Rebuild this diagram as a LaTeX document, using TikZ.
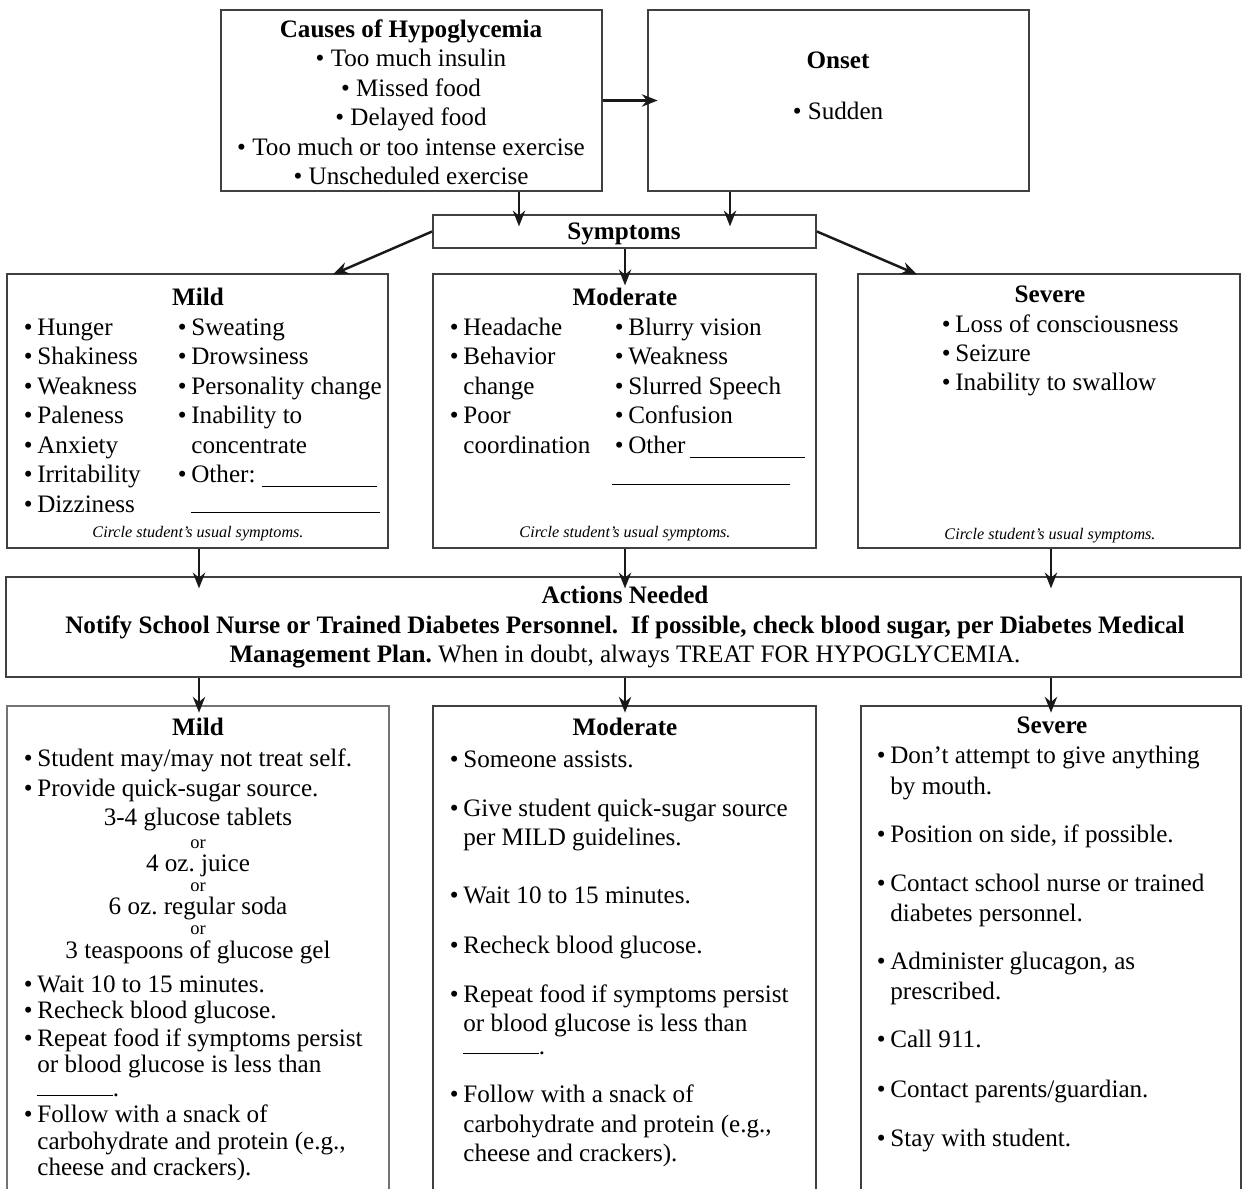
\documentclass[tikz,border=0pt]{standalone}
\usepackage{fontspec}
\setmainfont{Liberation Serif}
\usetikzlibrary{arrows.meta,fit}
\newcommand{\fBody}{\fontsize{14.3}{16.5}\selectfont}
\newcommand{\fNote}{\fontsize{9.2}{11}\selectfont}
\newcommand{\fOr}{\fontsize{10.5}{12}\selectfont}
\newcommand{\bul}{\llap{\textbullet\hspace{2.6pt}}}
\frenchspacing
\begin{document}
\begin{tikzpicture}[x=0.02cm,y=-0.02cm,
  box/.style={draw=black!75,line width=1pt,inner sep=0pt},
  openbox/.style={inner sep=0pt},
  txt/.style={anchor=base west,inner sep=0pt,font=\fBody},
  txc/.style={anchor=base,inner sep=0pt,font=\fBody},
  hdr/.style={anchor=base,inner sep=0pt,font=\fBody\bfseries},
  cnote/.style={anchor=base,inner sep=0pt,font=\fNote\itshape},
  orx/.style={anchor=base,inner sep=0pt,font=\fOr},
  arr/.style={-{Stealth[length=9pt,width=7pt]},line width=1.4pt,black!90},
  blank/.style={anchor=base west,inner sep=0pt}
]
\useasboundingbox (0,0) rectangle (1242,1189);

% ---------- boxes ----------
\node[box,fit={(221,10)(602,191)}] (causes) {};
\node[box,fit={(648,10)(1029,191)}] (onset) {};
\node[box,fit={(433,215)(816,248)}] (symp) {};
\node[box,fit={(7,274)(388,548)}] (smild) {};
\node[box,fit={(433,274)(816,548)}] (smod) {};
\node[box,fit={(858,274)(1240,548)}] (ssev) {};
\node[box,fit={(6,577)(1241,677)}] (act) {};
\node[openbox,fit={(7,706)(389,1189)}] (tmild) {};
\node[openbox,fit={(433,706)(816,1189)}] (tmod) {};
\node[openbox,fit={(861,706)(1241,1189)}] (tsev) {};
\draw[draw=black!55,line width=1pt] (tmild.south west) |- (tmild.north east) -- (tmild.south east);
\draw[draw=black!75,line width=1pt] (tmod.south west) |- (tmod.north east) -- (tmod.south east);
\draw[draw=black!75,line width=1pt] (tsev.south west) |- (tsev.north east) -- (tsev.south east);

% ---------- connectors ----------
\coordinate (xc) at (519,0);
\coordinate (xo) at (730,0);
\coordinate (xm) at (625,0);
\coordinate (xl) at (199,0);
\coordinate (xr) at (1051,0);
\coordinate (xsl) at (336,0);
\coordinate (xsr) at (914,0);
\draw[arr,shorten >=-6pt] (causes.east) -- (onset.west);
\draw[arr,shorten >=-7pt] (causes.south -| xc) -- (symp.north -| xc);
\draw[arr,shorten >=-7pt] (onset.south -| xo) -- (symp.north -| xo);
\draw[arr,shorten >=-2pt] (symp.west) -- (smild.north -| xsl);
\draw[arr,shorten >=-2pt] (symp.east) -- (ssev.north -| xsr);
\draw[arr,shorten >=-7pt] (symp.south -| xm) -- (smod.north -| xm);
\draw[arr,shorten >=-7pt] (smild.south -| xl) -- (act.north -| xl);
\draw[arr,shorten >=-7pt] (smod.south -| xm) -- (act.north -| xm);
\draw[arr,shorten >=-7pt] (ssev.south -| xr) -- (act.north -| xr);
\draw[arr,shorten >=-4pt] (act.south -| xl) -- (tmild.north -| xl);
\draw[arr,shorten >=-4pt] (act.south -| xm) -- (tmod.north -| xm);
\draw[arr,shorten >=-4pt] (act.south -| xr) -- (tsev.north -| xr);

\begin{scope}[shift={(0,3)}]
% ---------- causes ----------
\node[hdr] (c0) at (411,35) {Causes of Hypoglycemia};
\node[txc] (c1) at (411,64) {\textbullet\ Too much insulin};
\node[txc] (c2) at (411,94) {\textbullet\ Missed food};
\node[txc] (c3) at (411,123) {\textbullet\ Delayed food};
\node[txc] (c4) at (411,153) {\textbullet\ Too much or too intense exercise};
\node[txc] (c5) at (411,182) {\textbullet\ Unscheduled exercise};

% ---------- onset ----------
\node[hdr] (o0) at (838,66) {Onset};
\node[txc] (o1) at (838,117) {\textbullet\ Sudden};

% ---------- symptoms ----------
\node[hdr] (s0) at (624,237) {Symptoms};

% mild symptoms
\node[hdr] (sm0) at (198,303) {Mild};
\node[txt] (sm1) at (37,333) {\bul Hunger};
\node[txt] (sm2) at (37,362) {\bul Shakiness};
\node[txt] (sm3) at (37,392) {\bul Weakness};
\node[txt] (sm4) at (37,421) {\bul Paleness};
\node[txt] (sm5) at (37,451) {\bul Anxiety};
\node[txt] (sm6) at (37,480) {\bul Irritability};
\node[txt] (sm7) at (37,510) {\bul Dizziness};
\node[txt] (sm8) at (191,333) {\bul Sweating};
\node[txt] (sm9) at (191,362) {\bul Drowsiness};
\node[txt] (sm10) at (191,392) {\bul Personality change};
\node[txt] (sm11) at (191,421) {\bul Inability to};
\node[txt] (sm12) at (191,451) {concentrate};
\node[txt] (sm13) at (191,480) {\bul Other: \rule[-2.5pt]{65.5pt}{0.6pt}};
\node[blank] (sm14) at (191,510) {\rule{107.5pt}{0.6pt}};
\node[cnote] (sm15) at (198,535) {Circle student's usual symptoms.};

% moderate symptoms
\node[hdr] (sd0) at (625,303) {Moderate};
\node[txt] (sd1) at (463,333) {\bul Headache};
\node[txt] (sd2) at (463,362) {\bul Behavior};
\node[txt] (sd3) at (463,392) {change};
\node[txt] (sd4) at (463,421) {\bul Poor};
\node[txt] (sd5) at (463,451) {coordination};
\node[txt] (sd6) at (628,333) {\bul Blurry vision};
\node[txt] (sd7) at (628,362) {\bul Weakness};
\node[txt] (sd8) at (628,392) {\bul Slurred Speech};
\node[txt] (sd9) at (628,421) {\bul Confusion};
\node[txt] (sd10) at (628,451) {\bul Other\,\rule[-2.5pt]{65.5pt}{0.6pt}};
\node[blank] (sd11) at (612,482) {\rule{101pt}{0.6pt}};
\node[cnote] (sd12) at (625,535) {Circle student's usual symptoms.};

% severe symptoms
\node[hdr] (sv0) at (1050,300) {Severe};
\node[txt] (sv1) at (955,330) {\bul Loss of consciousness};
\node[txt] (sv2) at (955,359) {\bul Seizure};
\node[txt] (sv3) at (955,388) {\bul Inability to swallow};
\node[cnote] (sv4) at (1050,537) {Circle student's usual symptoms.};

% ---------- actions ----------
\node[hdr] (a0) at (625,601) {Actions Needed};
\node[hdr] (a1) at (625,631) {Notify School Nurse or Trained Diabetes Personnel.\ \ If possible, check blood sugar, per Diabetes Medical};
\node[txc] (a2) at (625,660) {\textbf{Management Plan.} When in doubt, always TREAT FOR HYPOGLYCEMIA.};

% ---------- mild treatment ----------
\node[hdr] (tm0) at (198,733) {Mild};
\node[txt] (tm1) at (37,763) {\bul Student may/may not treat self.};
\node[txt] (tm2) at (37,793) {\bul Provide quick-sugar source.};
\node[txc] (tm3) at (198,823) {3-4 glucose tablets};
\node[orx] (tm4) at (198,845) {or};
\node[txc] (tm5) at (198,868) {4 oz. juice};
\node[orx] (tm6) at (198,888) {or};
\node[txc] (tm7) at (198,911) {6 oz. regular soda};
\node[orx] (tm8) at (198,931) {or};
\node[txc] (tm9) at (198,955) {3 teaspoons of glucose gel};
\node[txt] (tm10) at (37,989) {\bul Wait 10 to 15 minutes.};
\node[txt] (tm11) at (37,1015) {\bul Recheck blood glucose.};
\node[txt] (tm12) at (37,1043) {\bul Repeat food if symptoms persist};
\node[txt] (tm13) at (37,1069) {or blood glucose is less than};
\node[txt] (tm14) at (37,1093) {\rule{43pt}{0.6pt}.};
\node[txt] (tm15) at (37,1119) {\bul Follow with a snack of};
\node[txt] (tm16) at (37,1146) {carbohydrate and protein (e.g.,};
\node[txt] (tm17) at (37,1172) {cheese and crackers).};

% ---------- moderate treatment ----------
\node[hdr] (td0) at (625,733) {Moderate};
\node[txt] (td1) at (463,764) {\bul Someone assists.};
\node[txt] (td2) at (463,813) {\bul Give student quick-sugar source};
\node[txt] (td3) at (463,843) {per MILD guidelines.};
\node[txt] (td4) at (463,900) {\bul Wait 10 to 15 minutes.};
\node[txt] (td5) at (463,950) {\bul Recheck blood glucose.};
\node[txt] (td6) at (463,999) {\bul Repeat food if symptoms persist};
\node[txt] (td7) at (463,1028) {or blood glucose is less than};
\node[txt] (td8) at (463,1051) {\rule{43pt}{0.6pt}.};
\node[txt] (td9) at (463,1099) {\bul Follow with a snack of};
\node[txt] (td10) at (463,1129) {carbohydrate and protein (e.g.,};
\node[txt] (td11) at (463,1158) {cheese and crackers).};

% ---------- severe treatment ----------
\node[hdr] (ts0) at (1052,731) {Severe};
\node[txt] (ts1) at (890,761) {\bul Don't attempt to give anything};
\node[txt] (ts2) at (890,791) {by mouth.};
\node[txt] (ts3) at (890,839) {\bul Position on side, if possible.};
\node[txt] (ts4) at (890,888) {\bul Contact school nurse or trained};
\node[txt] (ts5) at (890,918) {diabetes personnel.};
\node[txt] (ts6) at (890,966) {\bul Administer glucagon, as};
\node[txt] (ts7) at (890,996) {prescribed.};
\node[txt] (ts8) at (890,1044) {\bul Call 911.};
\node[txt] (ts9) at (890,1094) {\bul Contact parents/guardian.};
\node[txt] (ts10) at (890,1143) {\bul Stay with student.};
\end{scope}
\end{tikzpicture}
\end{document}
